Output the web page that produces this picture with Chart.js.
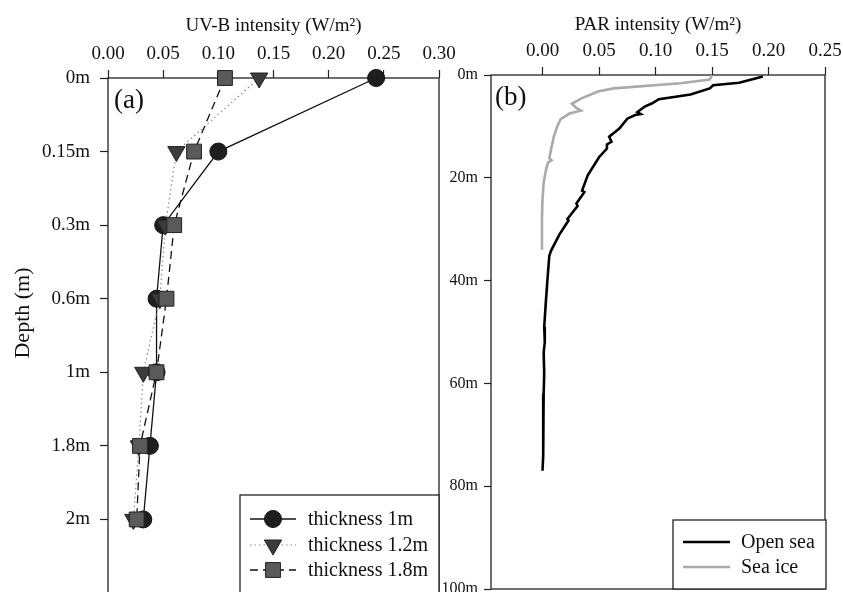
<!DOCTYPE html>
<html lang="en">
<head>
<meta charset="UTF-8">
<title>UV-B and PAR intensity vs depth</title>
<script src="https://cdn.jsdelivr.net/npm/chart.js@4.4.2/dist/chart.umd.min.js"></script>
<style>
  body { margin: 0; background: #fff; width: 843px; height: 592px; overflow: hidden; position: relative; }
  canvas { position: absolute; top: 0; }
  #uvb { left: 0; }
  #par { left: 441px; }
</style>
</head>
<body>
<canvas id="uvb" width="470" height="593"></canvas>
<canvas id="par" width="402" height="592"></canvas>
<script>
// ---- panel (a): UV-B under ice of different thickness ----
const depthLabels = ['0m', '0.15m', '0.3m', '0.6m', '1m', '1.8m', '2m'];
const thick1m  = [0.243, 0.100, 0.050, 0.044, 0.044, 0.038, 0.032];
const thick12m = [0.137, 0.062, 0.052, 0.047, 0.032, 0.028, 0.023];
const thick18m = [0.106, 0.078, 0.060, 0.053, 0.044, 0.029, 0.026];
const uvbTickValues = [0, 0.05, 0.10, 0.15, 0.20, 0.25, 0.30];
const uvbTickLabels = ['0.00', '0.05', '0.10', '0.15', '0.20', '0.25', '0.30'];

// ---- panel (b): PAR profiles ----
const openSeaDepth = [0.3, 0.6, 1.5, 2.0, 2.6, 3.8, 4.7, 5.5, 6.2, 7.2, 7.6, 7.8, 8.5, 10.4, 12, 13, 13.5, 14.3, 16,
                      19.5, 22.5, 22.8, 25, 25.5, 28, 28.3, 31, 34.2, 35.2, 39.4, 44, 49, 52, 54, 58, 62, 66, 70, 74, 77];
const openSeaPar   = [0.195, 0.190, 0.174, 0.151, 0.148, 0.131, 0.103, 0.097, 0.090, 0.084, 0.087, 0.082, 0.075, 0.068,
                      0.059, 0.061, 0.057, 0.057, 0.050, 0.040, 0.035, 0.037, 0.030, 0.031, 0.022, 0.023, 0.015, 0.0075,
                      0.006, 0.0045, 0.003, 0.0015, 0.002, 0.001, 0.0015, 0.001, 0.0008, 0.0005, 0.0005, 0.0];
const seaIceDepth = [0, 0.9, 1.6, 2.6, 3.2, 4.6, 5.6, 6.4, 6.9, 7.5, 8.6, 10, 12, 14, 16.2, 16.6, 17, 18.5, 21, 24, 28, 31, 34];
const seaIcePar   = [0.150, 0.148, 0.122, 0.063, 0.049, 0.034, 0.026, 0.030, 0.034, 0.024, 0.016, 0.013, 0.010, 0.008,
                     0.006, 0.008, 0.005, 0.003, 0.001, 0.000, -0.0005, -0.0005, -0.0005];
const parTickValues = [0, 0.05, 0.10, 0.15, 0.20, 0.25];
const parTickLabels = ['0.00', '0.05', '0.10', '0.15', '0.20', '0.25'];
const parDepthTicks = [0, 20, 40, 60, 80, 100];

const SERIF = "'Liberation Serif', 'DejaVu Serif', serif";
const INK = '#111';

// fixed axis sizes so both plot boxes land where the figure has them
function fixSize(prop, size) {
  return s => {
    s[prop] = size;
    s.paddingTop = 0; s.paddingBottom = 0;
    s.paddingLeft = 0; s.paddingRight = 0;
  };
}

// box round the plot area
const framePlugin = {
  id: 'frame',
  beforeDatasetsDraw(chart) {
    const { ctx, chartArea: a } = chart;
    ctx.save();
    ctx.strokeStyle = '#222';
    ctx.lineWidth = 1.3;
    ctx.strokeRect(a.left, a.top, a.right - a.left, a.bottom - a.top);
    ctx.restore();
  }
};

// legend box drawn inside the plot
const legendPlugin = {
  id: 'panelLegend',
  afterDraw(chart, args, opts) {
    const ctx = chart.ctx;
    const [bx, by, bw, bh] = opts.box;
    ctx.save();
    ctx.fillStyle = '#fff';
    ctx.fillRect(bx, by, bw, bh);
    ctx.strokeStyle = '#222';
    ctx.lineWidth = 1.3;
    ctx.strokeRect(bx, by, bw, bh);
    ctx.font = opts.font;
    ctx.textBaseline = 'middle';
    chart.data.datasets.forEach((ds, i) => {
      const y = opts.rowY[i];
      ctx.save();
      ctx.strokeStyle = ds.borderColor;
      ctx.lineWidth = ds.borderWidth;
      ctx.setLineDash(ds.borderDash || []);
      ctx.beginPath();
      ctx.moveTo(opts.lineX[0], y);
      ctx.lineTo(opts.lineX[1], y);
      ctx.stroke();
      ctx.restore();
      if (ds.pointRadius > 0) {
        ctx.save();
        ctx.fillStyle = ds.pointBackgroundColor;
        ctx.strokeStyle = ds.pointBorderColor;
        ctx.lineWidth = ds.pointBorderWidth;
        Chart.helpers.drawPoint(ctx, {
          pointStyle: ds.pointStyle, radius: ds.pointRadius,
          rotation: ds.pointRotation || 0, borderWidth: ds.pointBorderWidth
        }, (opts.lineX[0] + opts.lineX[1]) / 2, y);
        ctx.restore();
      }
      ctx.fillStyle = INK;
      ctx.fillText(ds.label, opts.textX, y + 1);
    });
    ctx.restore();
  }
};

// panel letters and rotated axis label
const textPlugin = {
  id: 'panelText',
  afterDatasetsDraw(chart, args, opts) {
    const ctx = chart.ctx;
    opts.items.forEach(t => {
      ctx.save();
      ctx.translate(t.x, t.y);
      ctx.rotate(t.rot || 0);
      ctx.font = t.font;
      ctx.fillStyle = INK;
      ctx.textAlign = t.align || 'left';
      ctx.textBaseline = 'middle';
      ctx.fillText(t.text, 0, 0);
      ctx.restore();
    });
  }
};

new Chart(document.getElementById('uvb'), {
  type: 'line',
  data: {
    labels: [...depthLabels, ''],
    datasets: [
      {
        label: 'thickness 1m', data: thick1m, order: 3,
        borderColor: '#111', borderWidth: 1.3,
        pointStyle: 'circle', pointRadius: 8.5,
        pointBackgroundColor: '#1e1e1e', pointBorderColor: '#111', pointBorderWidth: 1
      },
      {
        label: 'thickness 1.2m', data: thick12m, order: 2,
        borderColor: '#8a8a8a', borderWidth: 1.2, borderDash: [1.5, 3],
        pointStyle: 'triangle', pointRotation: 180, pointRadius: 10,
        pointBackgroundColor: '#3c3c3c', pointBorderColor: '#222', pointBorderWidth: 1
      },
      {
        label: 'thickness 1.8m', data: thick18m, order: 1,
        borderColor: '#111', borderWidth: 1.3, borderDash: [8, 5],
        pointStyle: 'rect', pointRadius: 10.5,
        pointBackgroundColor: '#5a5a5a', pointBorderColor: '#222', pointBorderWidth: 1
      }
    ]
  },
  options: {
    responsive: false,
    animation: false,
    indexAxis: 'y',
    layout: { autoPadding: false, padding: { left: 0, right: 31, top: 0, bottom: 0 } },
    scales: {
      x: {
        type: 'linear', position: 'top', min: 0, max: 0.30,
        afterBuildTicks: s => { s.ticks = uvbTickValues.map(v => ({ value: v })); },
        afterFit: fixSize('height', 78),
        ticks: {
          callback: (v, i) => uvbTickLabels[i],
          font: { family: SERIF, size: 19 }, color: INK, padding: 5,
          maxRotation: 0, autoSkip: false
        },
        grid: { drawOnChartArea: false, tickLength: 8, color: '#222', tickWidth: 1.2 },
        border: { display: false },
        title: {
          display: true, text: 'UV-B intensity (W/m²)', color: INK,
          font: { family: SERIF, size: 19 }, padding: { top: 15, bottom: 0 }
        }
      },
      y: {
        type: 'category',
        afterFit: fixSize('width', 108),
        ticks: { font: { family: SERIF, size: 19 }, color: INK, padding: 10, autoSkip: false },
        grid: { drawOnChartArea: false, tickLength: 8, color: '#222', tickWidth: 1.2 },
        border: { display: false }
      }
    },
    plugins: {
      legend: { display: false },
      tooltip: { enabled: false },
      panelLegend: {
        box: [240, 495, 199, 98], rowY: [519, 545, 570], lineX: [250, 296], textX: 308,
        font: '20px ' + SERIF
      },
      panelText: {
        items: [
          { text: '(a)', x: 114, y: 101, font: '27px ' + SERIF },
          { text: 'Depth (m)', x: 23, y: 313, rot: -Math.PI / 2, align: 'center', font: '22px ' + SERIF }
        ]
      }
    }
  },
  plugins: [framePlugin, legendPlugin, textPlugin]
});

new Chart(document.getElementById('par'), {
  type: 'line',
  data: {
    datasets: [
      {
        label: 'Open sea', data: openSeaDepth.map((d, i) => ({ x: openSeaPar[i], y: d })),
        borderColor: '#000', borderWidth: 2.6, pointRadius: 0
      },
      {
        label: 'Sea ice', data: seaIceDepth.map((d, i) => ({ x: seaIcePar[i], y: d })),
        borderColor: '#aaa', borderWidth: 2.6, pointRadius: 0
      }
    ]
  },
  options: {
    responsive: false,
    animation: false,
    indexAxis: 'y',
    layout: { autoPadding: false, padding: { left: 0, right: 18, top: 0, bottom: 3 } },
    scales: {
      x: {
        type: 'linear', position: 'top', min: -0.0456, max: 0.25,
        afterBuildTicks: s => { s.ticks = parTickValues.map(v => ({ value: v })); },
        afterFit: fixSize('height', 75),
        ticks: {
          callback: (v, i) => parTickLabels[i],
          font: { family: SERIF, size: 19 }, color: INK, padding: 5,
          maxRotation: 0, autoSkip: false
        },
        grid: { drawOnChartArea: false, tickLength: 8, color: '#222', tickWidth: 1.2 },
        border: { display: false },
        title: {
          display: true, text: 'PAR intensity (W/m²)', color: INK,
          font: { family: SERIF, size: 19 }, padding: { top: 14, bottom: 0 }
        }
      },
      y: {
        type: 'linear', min: 0, max: 100, reverse: true,
        afterBuildTicks: s => { s.ticks = parDepthTicks.map(v => ({ value: v })); },
        afterFit: fixSize('width', 50),
        ticks: { callback: v => v + 'm', font: { family: SERIF, size: 16 }, color: INK, padding: 6 },
        grid: { drawOnChartArea: false, tickLength: 7, color: '#222', tickWidth: 1.2 },
        border: { display: false }
      }
    },
    plugins: {
      legend: { display: false },
      tooltip: { enabled: false },
      panelLegend: {
        box: [232, 520, 153, 69], rowY: [542, 567], lineX: [242, 289], textX: 300,
        font: '20px ' + SERIF
      },
      panelText: {
        items: [
          { text: '(b)', x: 54, y: 98, font: '27px ' + SERIF }
        ]
      }
    }
  },
  plugins: [framePlugin, legendPlugin, textPlugin]
});
</script>
</body>
</html>
